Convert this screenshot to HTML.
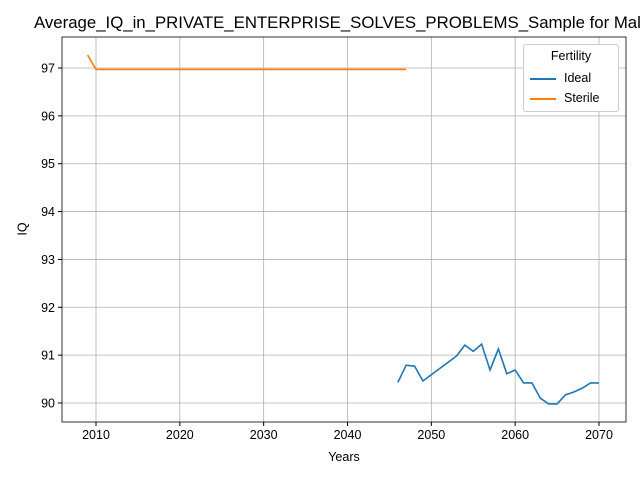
<!DOCTYPE html>
<html><head><meta charset="utf-8"><style>body{margin:0;background:#fff}svg{display:block;font-family:"Liberation Sans","DejaVu Sans",sans-serif}</style></head>
<body>
<svg id="chart" width="640" height="480"></svg>
<script>
const idealYears=[2046,2047,2048,2049,2050,2051,2052,2053,2054,2055,2056,2057,2058,2059,2060,2061,2062,2063,2064,2065,2066,2067,2068,2069,2070];
const idealIQ=[90.43,90.79,90.77,90.46,90.59,90.72,90.85,90.98,91.21,91.08,91.23,90.69,91.13,90.61,90.69,90.42,90.42,90.1,89.98,89.98,90.17,90.23,90.31,90.42,90.42];
const sterileYears=[2009,2010,2047];
const sterileIQ=[97.27,96.97,96.97];
const xTicks=[2010,2020,2030,2040,2050,2060,2070];
const yTicks=[90,91,92,93,94,95,96,97];
const NS="http://www.w3.org/2000/svg",svg=document.getElementById('chart');
const L=62,R=626,T=37,B=422;
const X=v=>96+(v-2010)*(599-96)/60;
const Y=v=>403-(v-90)*(403-68)/7;
function el(t,a,p){const e=document.createElementNS(NS,t);for(const k in a)e.setAttribute(k,a[k]);(p||svg).appendChild(e);return e;}
xTicks.forEach(t=>{const g=el('line',{x1:X(t),x2:X(t),y1:T,y2:B,stroke:'#b0b0b0','stroke-width':0.8});

el('line',{x1:X(t),x2:X(t),y1:B,y2:B+4,stroke:'#000'});
const tx=el('text',{x:X(t),y:B+17,'text-anchor':'middle','font-size':12.5});tx.textContent=t;
});
yTicks.forEach(t=>{const g=el('line',{x1:L,x2:R,y1:Y(t),y2:Y(t),stroke:'#b0b0b0','stroke-width':0.8});

el('line',{x1:L-4,x2:L,y1:Y(t),y2:Y(t),stroke:'#000'});
const tx=el('text',{x:L-7,y:Y(t)+4.5,'text-anchor':'end','font-size':12.5});tx.textContent=t;
});
function series(xs,ys,c,n){const p=el('polyline',{points:xs.map((x,i)=>X(x)+','+Y(ys[i])).join(' '),fill:'none',stroke:c,'stroke-width':1.6});
}
series(idealYears,idealIQ,'#1f77b4','ideal-line');
series(sterileYears,sterileIQ,'#ff7f0e','sterile-line');
const fr=el('rect',{x:L,y:T,width:R-L,height:B-T,fill:'none',stroke:'#000','stroke-width':0.8});

</script>
<div style="position:absolute;left:0;top:0;width:640px;height:480px;pointer-events:none;font-family:'Liberation Sans','DejaVu Sans',sans-serif">
<div style="position:absolute;left:34px;top:13px;font-size:16.8px;white-space:nowrap;width:606px;overflow:hidden">Average_IQ_in_PRIVATE_ENTERPRISE_SOLVES_PROBLEMS_Sample for Male</div>
<div style="position:absolute;left:0;width:688px;text-align:center;top:450px;font-size:12.5px">Years</div>
<div style="position:absolute;left:16px;top:222px;font-size:12.5px;transform:rotate(-90deg);transform-origin:center">IQ</div>
<div style="position:absolute;left:523px;top:44px;width:94px;height:66px;border:1px solid #ccc;border-radius:3px;background:#fff;font-size:12.5px">
<div style="text-align:center;margin-top:4px">Fertility</div>
<div style="position:absolute;left:6px;top:26px"><span style="display:inline-block;width:26px;height:2px;background:#1f77b4;vertical-align:middle;margin-right:8px"></span>Ideal</div>
<div style="position:absolute;left:6px;top:46px"><span style="display:inline-block;width:26px;height:2px;background:#ff7f0e;vertical-align:middle;margin-right:8px"></span>Sterile</div>
</div></div>
</body></html>
